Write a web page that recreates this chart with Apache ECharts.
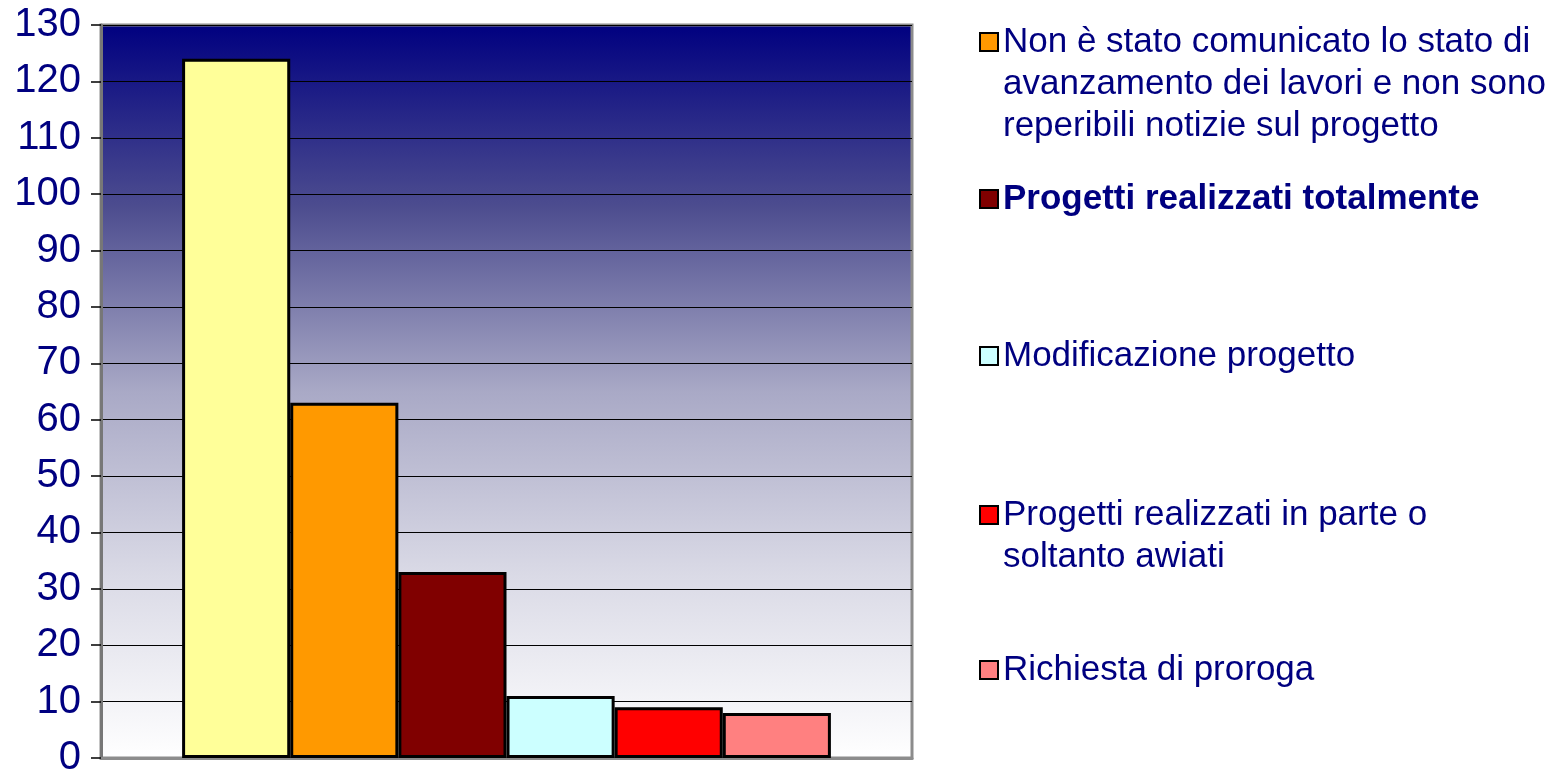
<!DOCTYPE html>
<html>
<head>
<meta charset="utf-8">
<script src="https://cdn.jsdelivr.net/npm/echarts@6/dist/echarts.min.js"></script>
<style>
  html, body { margin: 0; padding: 0; background: #fff; }
  #chart { width: 1548px; height: 778px; }
</style>
</head>
<body>
<div id="chart"></div>
<script>
var categories = [''];
var seriesNames = [
  'Serie 1',
  'Non è stato comunicato lo stato di avanzamento dei lavori e non sono reperibili notizie sul progetto',
  'Progetti realizzati totalmente',
  'Modificazione progetto',
  'Progetti realizzati in parte o soltanto avviati',
  'Richiesta di proroga'
];
var seriesValues = [124, 63, 33, 11, 9, 8];
var seriesColors = ['#FFFF99', '#FF9900', '#800000', '#CCFFFF', '#FF0000', '#FF8080'];

// testo della legenda già spezzato come nel riferimento
var legendText = {};
legendText[seriesNames[1]] = 'Non è stato comunicato lo stato di\navanzamento dei lavori e non sono\nreperibili notizie sul progetto';
legendText[seriesNames[2]] = 'Progetti realizzati totalmente';
legendText[seriesNames[3]] = 'Modificazione progetto';
legendText[seriesNames[4]] = 'Progetti realizzati in parte o\nsoltanto awiati';
legendText[seriesNames[5]] = 'Richiesta di proroga';

var chart = echarts.init(document.getElementById('chart'));

var fontFamily = '"Liberation Sans", Arial, sans-serif';
var navy = '#000080';
var lineH = 42;

// centro verticale del quadratino di ogni voce
var legendCenters = [42, 199, 356, 515, 670];

function lineCount(name) {
  return legendText[name].split('\n').length;
}

var legends = [];
for (var i = 1; i < seriesNames.length; i++) {
  var name = seriesNames[i];
  var n = lineCount(name);
  legends.push({
    data: [{
      name: name,
      textStyle: i === 2 ? { fontWeight: 'bold' } : {}
    }],
    orient: 'vertical',
    left: 979,
    top: legendCenters[i - 1] - (2 * n - 1) * lineH / 2,
    padding: 0,
    icon: 'rect',
    itemWidth: 18,
    itemHeight: 18,
    itemGap: 0,
    selectedMode: false,
    itemStyle: { borderColor: '#000', borderWidth: 2 },
    // righe vuote in testa così il quadratino resta sulla prima riga
    formatter: function (nm) {
      var k = lineCount(nm);
      return new Array(k).join('\n') + legendText[nm];
    },
    textStyle: {
      color: navy,
      fontFamily: fontFamily,
      fontSize: 35,
      lineHeight: lineH
    }
  });
}

var series = [];
for (var j = 0; j < seriesNames.length; j++) {
  series.push({
    name: seriesNames[j],
    type: 'bar',
    data: [seriesValues[j]],
    barGap: '0%',
    barCategoryGap: '20%',
    itemStyle: {
      color: seriesColors[j],
      borderColor: '#000',
      borderWidth: 3
    }
  });
}

var option = {
  animation: false,
  legend: legends,
  grid: {
    left: 101,
    top: 25,
    right: 636,
    bottom: 14,
    show: true,
    borderColor: '#8c8c8c',
    borderWidth: 3,
    backgroundColor: new echarts.graphic.LinearGradient(0, 0, 0, 1, [
      { offset: 0, color: '#000080' },
      { offset: 0.25, color: '#4d4d8f' },
      { offset: 0.5, color: '#a9a9c6' },
      { offset: 0.75, color: '#dadae6' },
      { offset: 1, color: '#ffffff' }
    ])
  },
  xAxis: {
    type: 'category',
    data: categories,
    axisTick: { show: false },
    axisLabel: { show: false },
    axisLine: { lineStyle: { color: '#8c8c8c', width: 3 } }
  },
  yAxis: {
    type: 'value',
    min: 0,
    max: 130,
    interval: 10,
    axisLine: { show: true, lineStyle: { color: '#777', width: 3 } },
    axisTick: { show: true, length: 10, lineStyle: { color: '#000', width: 1.5 } },
    axisLabel: {
      color: navy,
      fontFamily: fontFamily,
      fontSize: 40,
      margin: 20
    },
    splitLine: { show: true, lineStyle: { color: '#000', width: 1.2 } }
  },
  series: series
};

chart.setOption(option);
</script>
</body>
</html>
